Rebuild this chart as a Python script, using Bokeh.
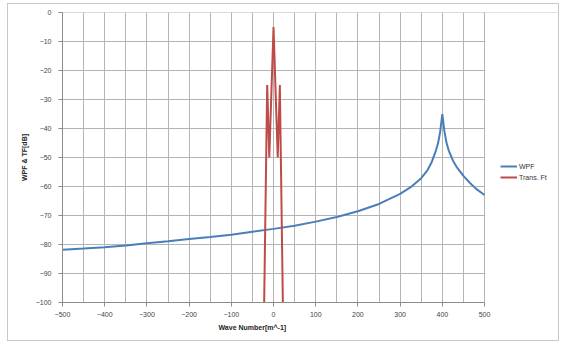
from bokeh.plotting import figure
from bokeh.models import Range1d, SingleIntervalTicker, Legend, LegendItem, BoxAnnotation, Title
from bokeh.embed import file_html
from bokeh.resources import INLINE

# WPF curve
wpf_x = [-500, -450, -400, -350, -300, -250, -200, -150, -100, -50, 0, 50, 100, 150,
         200, 250, 300, 325, 350, 365, 375, 385, 390, 395, 400, 405, 410, 415, 425,
         435, 450, 465, 480, 500]
wpf_y = [-81.8, -81.4, -80.9, -80.3, -79.6, -78.9, -78.1, -77.4, -76.6, -75.6, -74.6,
         -73.5, -72.1, -70.5, -68.5, -66.0, -62.5, -60.2, -57.1, -54.3, -51.5, -47.5,
         -45.0, -41.0, -35.0, -41.0, -45.0, -47.5, -51.0, -53.5, -56.3, -58.7, -60.8,
         -62.9]

# Trans. Ft
tf_x = [-25, -15, -10, 0, 10, 15, 25]
tf_y = [-130, -25, -50, -5, -50, -25, -130]

x_ticks = [-500, -400, -300, -200, -100, 0, 100, 200, 300, 400, 500]
y_ticks = [0, -10, -20, -30, -40, -50, -60, -70, -80, -90, -100]

FONT = "Liberation Sans"
GRID = "#b4b4b4"

# frame extends right to hold the legend; axis/grid bounded to the data area
p = figure(width=552, height=338, output_backend="svg", toolbar_location=None,
           x_range=Range1d(-500, 680), y_range=Range1d(-100, 0.05),
           min_border_left=54, min_border_right=0, min_border_top=8, min_border_bottom=40)
p.styles = {"border": "1px solid #c8c8c8", "margin-left": "7px", "margin-top": "3px"}
p.background_fill_color = "white"
p.border_fill_color = "white"
p.outline_line_color = None

p.xaxis.ticker = SingleIntervalTicker(interval=100, num_minor_ticks=2)
p.yaxis.ticker = SingleIntervalTicker(interval=10, num_minor_ticks=0)
p.xaxis.bounds = (x_ticks[0], x_ticks[-1])
p.xgrid.bounds = (x_ticks[0], x_ticks[-1])
p.xgrid.minor_grid_line_color = GRID
p.xgrid.grid_line_color = GRID
p.ygrid.grid_line_color = GRID

for ax in (p.xaxis[0], p.yaxis[0]):
    ax.axis_line_color = "#8c8c8c"
    ax.major_tick_line_color = "#8c8c8c"
    ax.major_tick_out = 4
    ax.major_tick_in = 0
    ax.minor_tick_line_color = None
    ax.major_label_text_font = FONT
    ax.major_label_text_font_size = "7px"
    ax.major_label_text_color = "#444444"
    ax.axis_label_text_font = FONT
    ax.axis_label_text_font_size = "7px"
    ax.axis_label_text_font_style = "bold"
    ax.axis_label_text_color = "#222222"

p.xaxis.major_label_standoff = 5
p.yaxis.major_label_standoff = 7
p.yaxis.axis_label = "WPF & TF[dB]"
p.yaxis.axis_label_standoff = 5

p.add_layout(Title(text="Wave Number[m^-1]", align="left", offset=156, standoff=4,
                   text_font=FONT, text_font_size="7px", text_font_style="bold",
                   text_color="#222222"), "below")

# white cover over the area right of the data region (hides the y grid there)
p.add_layout(BoxAnnotation(left=x_ticks[-1] + 1.5, fill_color="white", fill_alpha=1,
                           line_alpha=0, level="underlay"))

r1 = p.line(wpf_x, wpf_y, line_color="#4a7ebb", line_width=2)
r2 = p.line(tf_x, tf_y, line_color="#be4b48", line_width=2)

legend = Legend(items=[LegendItem(label="WPF", renderers=[r1]),
                       LegendItem(label="Trans. Ft", renderers=[r2])],
                location=(438, 121), border_line_color=None, background_fill_alpha=0,
                label_text_font=FONT, label_text_font_size="7px",
                label_text_color="#333333", glyph_width=17, glyph_height=8,
                label_standoff=2, spacing=3, label_height=8,
                padding=4, margin=0)
p.add_layout(legend)

open("out.html", "w").write(file_html(p, INLINE))
